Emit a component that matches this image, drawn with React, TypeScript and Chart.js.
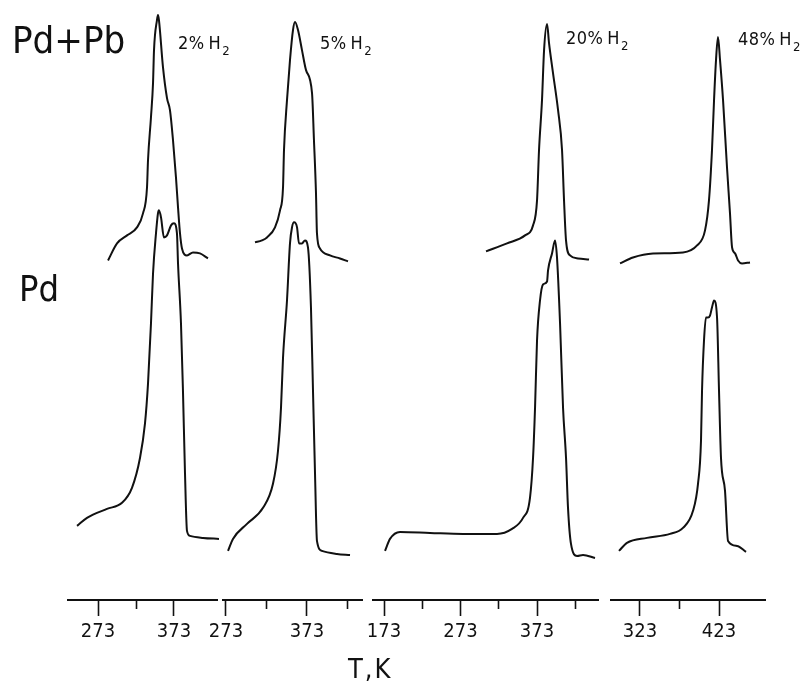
import React, { useEffect, useRef } from "react";
import { Chart, registerables } from "chart.js";

Chart.register(...registerables);

const FONT = '"DejaVu Sans Condensed", "DejaVu Sans", sans-serif';
const INK = "#111111";

// ---- text ----
const sampleLabels = ["Pd+Pb", "Pd"];
const h2Labels = ["2%", "5%", "20%", "48%"];
const axisTitle = "T,K";

// ---- tick values per panel (K) ----
const ticksP1 = [273, 323, 373];
const ticksP2 = [273, 323, 373, 423];
const ticksP3 = [173, 223, 273, 323, 373, 423];
const ticksP4 = [323, 373, 423];
const majorP1 = [273, 373];
const majorP2 = [273, 373];
const majorP3 = [173, 273, 373];
const majorP4 = [323, 423];

// ---- x ranges per panel (K) ----
const rangeP1 = [233.5, 429.6];
const rangeP2 = [269.3, 440.9];
const rangeP3 = [158.6, 452.7];
const rangeP4 = [286.3, 481.2];

// ---- data: temperature (K) and TPD signal (arb. units, Pd+Pb trace offset) ----
// 2% H2
const pdpb2T = [286.2, 298.0, 311.2, 324.3, 332.2, 337.5, 338.8, 342.7, 345.4, 346.7, 350.6, 351.9, 353.2, 358.5, 363.8, 367.7, 371.7, 375.6, 378.3, 380.9, 383.5, 390.1, 398.0, 407.2, 417.7];
const pdpb2S = [33.9, 35.6, 36.4, 37.2, 38.6, 41.2, 43.9, 48.2, 51.6, 54.9, 57.9, 58.4, 57.9, 53.2, 50.1, 48.9, 45.9, 42.2, 39.2, 36.6, 35.1, 34.4, 34.7, 34.6, 34.1];
const pd2T = [245.4, 258.5, 284.8, 304.6, 317.7, 328.3, 334.8, 338.8, 342.7, 345.4, 349.3, 351.9, 353.2, 355.9, 359.8, 363.8, 369.1, 373.0, 376.9, 378.3, 382.2, 384.8, 387.5, 390.1, 394.1, 411.2, 432.2];
const pd2S = [7.4, 8.2, 9.1, 9.7, 11.2, 14.2, 17.6, 21.6, 27.6, 32.6, 36.6, 38.6, 38.9, 38.2, 36.2, 36.4, 37.4, 37.6, 36.6, 33.6, 27.6, 20.9, 12.6, 6.9, 6.4, 6.2, 6.1];
// 5% H2
const pdpb5T = [308.8, 317.4, 323.6, 333.5, 339.7, 343.4, 344.6, 348.3, 352.0, 355.7, 358.2, 361.9, 366.8, 371.8, 379.2, 381.6, 384.1, 385.3, 389.0, 401.4, 413.7, 423.6];
const pdpb5S = [35.7, 35.9, 36.2, 37.2, 38.9, 41.2, 44.9, 49.9, 53.9, 56.9, 57.7, 56.9, 54.9, 52.9, 50.6, 45.9, 40.6, 36.6, 35.1, 34.4, 34.1, 33.8];
const pd5T = [275.5, 281.6, 298.9, 318.7, 331.0, 337.2, 340.9, 343.4, 348.3, 352.0, 354.5, 357.0, 360.7, 363.1, 366.8, 370.5, 374.2, 377.9, 380.4, 382.9, 385.3, 391.5, 410.0, 426.1];
const pd5S = [4.9, 6.1, 7.6, 9.2, 11.6, 14.9, 19.2, 24.2, 29.9, 35.6, 37.2, 37.7, 37.2, 35.6, 35.6, 35.9, 35.2, 29.2, 20.9, 12.6, 5.9, 4.9, 4.6, 4.5];
// 20% H2
const pdpb20T = [306.3, 333.8, 357.3, 367.8, 373.0, 375.6, 379.5, 382.2, 386.1, 388.7, 393.9, 400.5, 405.7, 408.3, 410.9, 416.1, 426.6, 441.0];
const pdpb20S = [34.8, 35.6, 36.4, 37.4, 39.9, 44.9, 49.9, 54.9, 57.5, 55.6, 52.6, 48.9, 44.9, 39.9, 35.9, 34.4, 34.1, 34.0];
const pd20T = [174.3, 180.8, 193.9, 233.1, 276.3, 320.7, 340.3, 354.7, 363.8, 367.8, 370.4, 373.0, 376.9, 380.8, 386.1, 387.4, 392.6, 396.5, 399.1, 403.1, 407.0, 410.9, 413.5, 417.4, 425.3, 433.1, 448.8];
const pd20S = [4.9, 6.1, 6.8, 6.7, 6.6, 6.6, 7.1, 8.2, 10.2, 14.2, 19.2, 25.9, 29.9, 31.5, 31.8, 32.9, 34.6, 35.9, 34.2, 27.6, 19.2, 14.2, 9.2, 5.6, 4.4, 4.5, 4.2];
// 48% H2
const pdpb48T = [297.7, 314.1, 339.5, 377.4, 395.2, 405.3, 410.3, 414.1, 416.7, 419.2, 421.7, 424.3, 428.1, 433.1, 436.9, 439.5, 443.3, 447.1, 452.1, 462.2];
const pdpb48S = [33.6, 34.2, 34.6, 34.7, 35.4, 36.9, 39.9, 44.9, 49.9, 53.9, 56.2, 53.9, 49.9, 43.2, 38.6, 35.2, 34.6, 33.9, 33.6, 33.7];
const pd48T = [296.4, 306.5, 331.9, 361.0, 377.4, 390.1, 396.4, 400.2, 401.5, 404.0, 406.5, 409.1, 411.6, 414.1, 416.7, 420.5, 423.0, 425.5, 430.6, 434.4, 445.8, 457.2];
const pd48S = [4.9, 5.7, 6.2, 6.6, 7.2, 8.9, 11.6, 15.9, 20.9, 25.9, 28.2, 28.2, 28.4, 29.2, 29.9, 28.2, 20.9, 14.2, 10.9, 5.9, 5.4, 4.8];

const SIGNAL_MAX = 59.9;

// ---- layout (pixels) ----
const PAD = 30;
const PLOT_BOTTOM = 599;
const AXIS_HEIGHT = 49;
const panels = [
  { left: 68, width: 149, range: rangeP1, ticks: ticksP1, major: majorP1, top: [pdpb2T, pdpb2S], bottom: [pd2T, pd2S] },
  { left: 223, width: 139, range: rangeP2, ticks: ticksP2, major: majorP2, top: [pdpb5T, pdpb5S], bottom: [pd5T, pd5S] },
  { left: 373, width: 225, range: rangeP3, ticks: ticksP3, major: majorP3, top: [pdpb20T, pdpb20S], bottom: [pd20T, pd20S] },
  { left: 611, width: 154, range: rangeP4, ticks: ticksP4, major: majorP4, top: [pdpb48T, pdpb48S], bottom: [pd48T, pd48S] },
];

const toPts = (xs: number[], ys: number[]) => xs.map((x, i) => ({ x, y: ys[i] }));

function Panel({ p }: { p: typeof panels[number] }) {
  const ref = useRef<HTMLCanvasElement | null>(null);
  const H = PLOT_BOTTOM + AXIS_HEIGHT;
  const W = p.width + 2 * PAD;
  useEffect(() => {
    if (!ref.current) return;
    const ds = (pts: any[]) => ({
      data: pts,
      borderColor: INK,
      borderWidth: 2,
      pointRadius: 0,
      fill: false,
      cubicInterpolationMode: "monotone" as const,
      clip: false as any,
    });
    const chart = new Chart(ref.current, {
      type: "line",
      data: {
        datasets: [ds(toPts(p.top[0], p.top[1])), ds(toPts(p.bottom[0], p.bottom[1]))],
      },
      options: {
        animation: false,
        responsive: false,
        devicePixelRatio: 1,
        layout: { padding: { left: PAD, right: PAD, top: 0, bottom: 0 }, autoPadding: false },
        plugins: { legend: { display: false }, tooltip: { enabled: false } },
        scales: {
          x: {
            type: "linear",
            min: p.range[0],
            max: p.range[1],
            afterBuildTicks: (scale: any) => {
              scale.ticks = p.ticks.map((v) => ({ value: v }));
            },
            ticks: {
              autoSkip: false,
              maxRotation: 0,
              padding: 4,
              color: INK,
              font: { family: FONT, size: 20 },
              callback: (v: any) => (p.major.includes(Number(v)) ? String(v) : ""),
            },
            grid: {
              drawOnChartArea: false,
              drawTicks: true,
              tickLength: 16,
              tickColor: INK,
              tickWidth: 1.6,
              tickBorderDash: (ctx: any) =>
                ctx.tick && p.major.includes(ctx.tick.value) ? [] : [8, 100],
            } as any,
            border: { display: true, color: INK, width: 2 },
          },
          y: { display: false, min: 0, max: SIGNAL_MAX },
        },
      },
    });
    return () => chart.destroy();
  }, []);
  return (
    <canvas
      ref={ref}
      width={W}
      height={H}
      style={{ position: "absolute", left: p.left - PAD, top: 0, width: W, height: H }}
    />
  );
}

const txt = (extra: React.CSSProperties): React.CSSProperties => ({
  position: "absolute",
  fontFamily: FONT,
  color: INK,
  lineHeight: 1,
  whiteSpace: "nowrap",
  ...extra,
});

const h2Pos = [
  { left: 178, top: 34 },
  { left: 320, top: 34 },
  { left: 566, top: 29 },
  { left: 738, top: 30 },
];

export default function App() {
  return (
    <div style={{ position: "fixed", left: 0, top: 0, width: 811, height: 681, background: "#fff", overflow: "hidden" }}>
      {panels.map((p, i) => (
        <Panel key={i} p={p} />
      ))}
      <div style={txt({ left: 12, top: 21, fontSize: 38 })}>{sampleLabels[0]}</div>
      <div style={txt({ left: 19, top: 271, fontSize: 36 })}>{sampleLabels[1]}</div>
      {h2Labels.map((l, i) => (
        <div key={l} style={txt({ left: h2Pos[i].left, top: h2Pos[i].top, fontSize: 18, letterSpacing: 0.5 })}>
          {l}&thinsp;H<sub style={{ fontSize: 13, verticalAlign: -6, lineHeight: 1, marginLeft: 1 }}>2</sub>
        </div>
      ))}
      <div style={txt({ left: 348, top: 655, fontSize: 27, letterSpacing: 2 })}>{axisTitle}</div>
    </div>
  );
}
